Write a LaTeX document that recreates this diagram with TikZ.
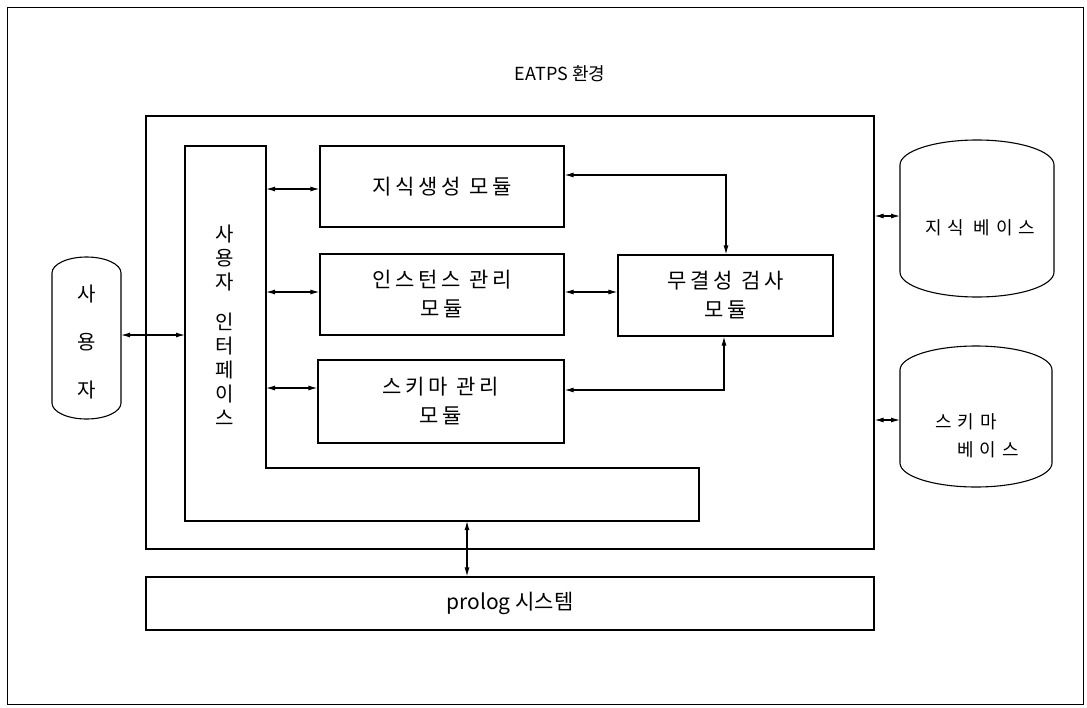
\documentclass[tikz,border=0pt]{standalone}
\usepackage{fontspec}
\setmainfont{Noto Sans CJK KR}
\usetikzlibrary{arrows.meta}
\newcommand{\modfont}{\fontsize{21}{29}\selectfont\addfontfeature{LetterSpace=18}}
\newcommand{\dbfont}{\fontsize{18}{28}\selectfont\addfontfeature{LetterSpace=32}}
\begin{document}
\begin{tikzpicture}[x=1pt,y=-1pt,line width=1.1pt,
  box/.style={draw,line width=1.1pt,inner sep=0pt,align=center,font=\modfont},
  lbl/.style={inner sep=0pt,align=center,font=\modfont},
  arr/.style={{Latex[length=9pt,width=5pt]}-{Latex[length=9pt,width=5pt]},line width=1.1pt}]
\useasboundingbox (0,0) rectangle (1087,707);
% outer frame
\draw[line width=1pt] (7,7) rectangle (1083,704);
% title
\node[lbl,font=\fontsize{18}{22}\selectfont] (title) at (560,74) {EATPS 환경};
% environment box
\node[box,minimum width=728pt,minimum height=433pt] (env) at (510,332.5) {};
% prolog
\node[box,minimum width=728pt,minimum height=53pt,font=\fontsize{21}{26}\selectfont] (prolog) at (510,603.5) {prolog 시스템};
% user interface L-shape
\draw (185,146) -- (266,146) -- (266,468) -- (699,468) -- (699,521) -- (185,521) -- cycle;
\coordinate (uiR) at (266,146);
\coordinate (uiL) at (185,146);
\coordinate (uiB) at (467,521);
\node[lbl,font=\fontsize{20}{24}\selectfont] (uitext) at (225,325) {사\\용\\자\\[16pt]인\\터\\페\\이\\스};
% modules
\node[box,minimum width=244pt,minimum height=81pt] (m1) at (442,186.5) {지식생성 모듈};
\node[box,minimum width=244pt,minimum height=81pt] (m2) at (442,294.5) {인스턴스 관리\\모듈};
\node[box,minimum width=246pt,minimum height=83pt] (m3) at (441,401.5) {스키마 관리\\모듈};
\node[box,minimum width=215pt,minimum height=81pt] (chk) at (725.5,295.5) {무결성 검사\\모듈};
% user capsule
\draw (52,273) arc[start angle=180,end angle=360,x radius=34.5,y radius=16]
  -- (121,403) arc[start angle=0,end angle=180,x radius=34.5,y radius=16] -- cycle;
\node[lbl,font=\fontsize{20}{48}\selectfont] (user) at (87,342) {사\\용\\자};
\coordinate (userR) at (121,335);
% knowledge base cylinder
\draw (900,165) arc[start angle=180,end angle=360,x radius=77,y radius=25]
  -- (1054,272) arc[start angle=0,end angle=180,x radius=77,y radius=25] -- cycle;
\node[lbl,font=\dbfont] (kb) at (980,228) {지식 베이스};
\coordinate (kbL) at (900,216);
% schema base cylinder
\draw (900,370) arc[start angle=180,end angle=360,x radius=76,y radius=24]
  -- (1052,463) arc[start angle=0,end angle=180,x radius=76,y radius=24] -- cycle;
\node[lbl,font=\dbfont] (sb1) at (966,422) {스키마};
\node[lbl,font=\dbfont] (sb2) at (988,450) {베이스};
\coordinate (sbL) at (900,420);
% arrow rows
\coordinate (y1) at (0,189);
\coordinate (y2) at (0,292);
\coordinate (y3) at (0,388);
\coordinate (yk1) at (0,175);
\coordinate (yk3) at (0,390);
\coordinate (xk1) at (726,0);
\coordinate (xk3) at (724,0);
% connectors
\draw[arr] (userR) -- (uiL |- userR);
\draw[arr] (uiR |- y1) -- (m1.west |- y1);
\draw[arr] (uiR |- y2) -- (m2.west |- y2);
\draw[arr] (uiR |- y3) -- (m3.west |- y3);
\draw[arr] (m1.east |- yk1) -- (xk1 |- yk1) -- (xk1 |- chk.north);
\draw[arr] (m2.east |- y2) -- (chk.west |- y2);
\draw[arr] (m3.east |- yk3) -- (xk3 |- yk3) -- (xk3 |- chk.south);
\draw[arr] (env.east |- kbL) -- (kbL);
\draw[arr] (env.east |- sbL) -- (sbL);
\draw[arr] (uiB) -- (uiB |- prolog.north);
\end{tikzpicture}
\end{document}
